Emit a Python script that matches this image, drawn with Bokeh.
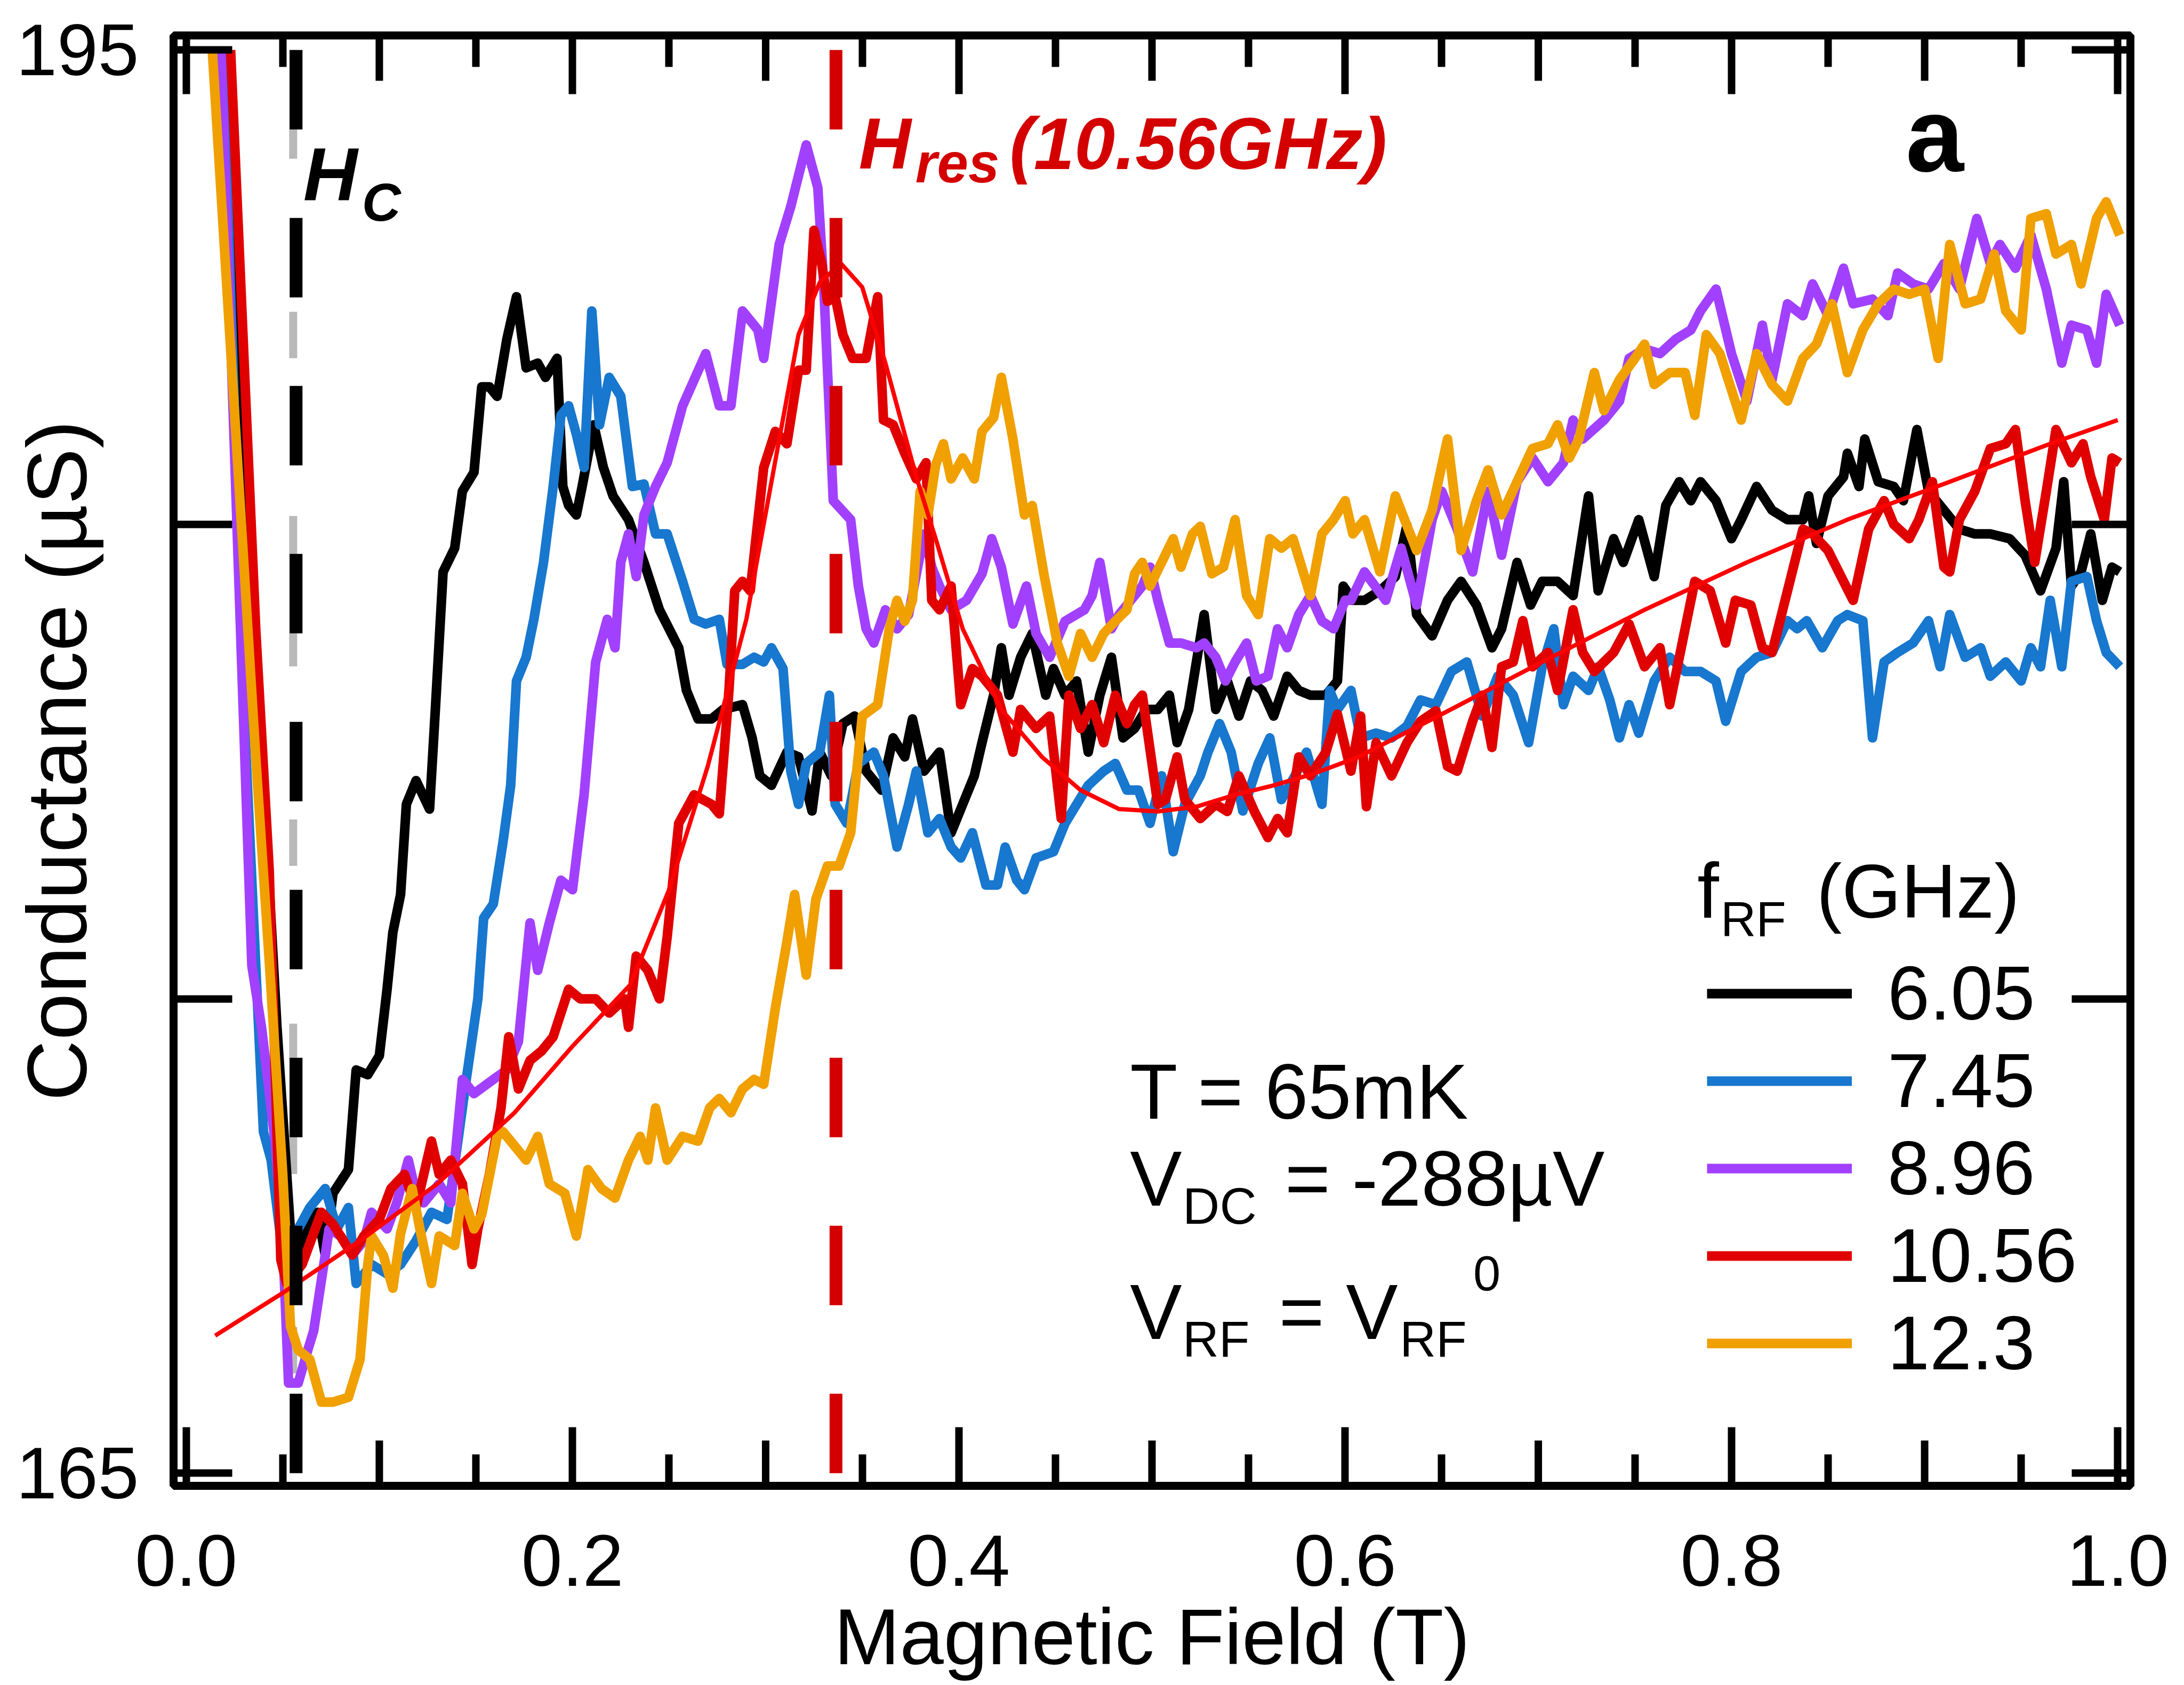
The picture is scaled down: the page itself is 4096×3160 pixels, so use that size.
from bokeh.plotting import figure
from bokeh.models import (Range1d, LinearAxis, FixedTicker, Legend, LegendItem,
                          PrintfTickFormatter)
from bokeh.core.properties import value
from bokeh.embed import file_html
from bokeh.resources import INLINE

# ---------------- data ----------------
series_names = ["6.05", "7.45", "8.96", "10.56", "12.3"]
series_colors = ["#000000", "#1877ce", "#a240ff", "#e00000", "#f0a000"]

black_pts = [(0.019,195.0),(0.047,174.4),(0.054,170.1),(0.057,169.6),(0.062,170.15),(0.068,170.5),(0.072,169.6),(0.076,170.9),(0.084,171.4),(0.088,173.5),(0.094,173.4),(0.100,173.8),(0.104,175.2),(0.107,176.4),(0.111,177.2),(0.114,179.1),(0.119,179.6),(0.126,179.0),(0.129,181.1),(0.133,184.0),(0.139,184.5),(0.143,185.7),(0.149,186.1),(0.153,187.9),(0.157,187.9),(0.161,187.7),(0.166,188.9),(0.171,189.8),(0.176,188.3),(0.182,188.4),(0.186,188.1),(0.192,188.5),(0.195,185.8),(0.198,185.4),(0.202,185.2),(0.205,185.8),(0.211,187.1),(0.216,186.2),(0.221,185.6),(0.229,185.1),(0.237,184.2),(0.245,183.2),(0.255,182.4),(0.259,181.5),(0.265,180.9),(0.272,180.9),(0.278,181.1),(0.288,181.2),(0.293,180.5),(0.297,179.7),(0.303,179.5),(0.311,180.2),(0.317,180.1),(0.324,178.96),(0.328,180.2),(0.334,179.7),(0.340,180.8),(0.346,180.96),(0.352,179.8),(0.360,179.4),(0.366,180.5),(0.372,180.1),(0.376,180.9),(0.382,179.8),(0.390,180.2),(0.396,178.5),(0.402,179.1),(0.408,179.7),(0.412,180.4),(0.418,181.4),(0.422,182.4),(0.426,181.4),(0.432,182.2),(0.438,182.7),(0.445,181.4),(0.449,181.96),(0.455,181.4),(0.461,181.7),(0.467,180.2),(0.473,181.4),(0.479,182.2),(0.485,180.5),(0.491,180.7),(0.497,181.1),(0.503,181.1),(0.509,181.4),(0.513,180.4),(0.519,181.1),(0.527,183.1),(0.533,181.1),(0.539,181.7),(0.545,180.96),(0.551,181.7),(0.557,181.5),(0.563,180.96),(0.570,181.8),(0.576,181.5),(0.582,181.4),(0.590,181.4),(0.596,181.7),(0.599,183.7),(0.604,183.4),(0.610,183.4),(0.618,183.6),(0.626,183.9),(0.632,184.98),(0.637,183.1),(0.645,182.65),(0.653,183.4),(0.660,183.8),(0.668,183.3),(0.676,182.4),(0.681,182.8),(0.689,184.2),(0.696,183.3),(0.702,183.8),(0.710,183.8),(0.718,183.5),(0.726,185.6),(0.731,183.6),(0.739,184.7),(0.744,184.2),(0.752,185.1),(0.760,183.9),(0.766,185.4),(0.773,185.9),(0.779,185.5),(0.784,185.9),(0.792,185.5),(0.800,184.7),(0.805,185.1),(0.813,185.8),(0.821,185.3),(0.829,185.1),(0.837,185.1),(0.840,185.6),(0.844,184.6),(0.850,185.6),(0.858,186.0),(0.860,186.5),(0.866,185.8),(0.869,186.8),(0.876,185.9),(0.884,185.8),(0.889,185.5),(0.896,187.0),(0.902,185.7),(0.910,185.3),(0.918,184.9),(0.926,184.8),(0.934,184.8),(0.944,184.7),(0.952,184.35),(0.960,183.6),(0.968,184.5),(0.972,185.9),(0.976,183.7),(0.981,184.0),(0.986,184.8),(0.992,183.4),(0.997,184.1),(1.001,184.0)]

blue_pts = [(0.019,195.0),(0.030,181.0),(0.040,172.2),(0.044,171.6),(0.050,169.6),(0.058,170.15),(0.064,170.6),(0.072,171.0),(0.078,170.15),(0.084,170.6),(0.088,169.0),(0.096,169.4),(0.104,169.2),(0.111,169.4),(0.119,169.9),(0.127,170.5),(0.135,170.35),(0.141,172.1),(0.145,173.3),(0.151,175.0),(0.154,176.7),(0.159,177.0),(0.164,178.3),(0.168,179.5),(0.171,181.7),(0.176,182.2),(0.180,183.0),(0.185,184.2),(0.190,185.8),(0.194,187.3),(0.198,187.5),(0.202,186.9),(0.206,186.2),(0.210,189.5),(0.214,187.1),(0.219,188.1),(0.225,187.7),(0.231,185.8),(0.237,185.85),(0.243,184.8),(0.249,184.8),(0.257,183.8),(0.263,183.0),(0.269,182.9),(0.276,183.0),(0.280,182.05),(0.288,182.05),(0.294,182.2),(0.299,182.1),(0.303,182.4),(0.309,181.96),(0.313,179.8),(0.317,179.1),(0.321,179.96),(0.328,180.2),(0.333,181.4),(0.336,179.1),(0.342,178.7),(0.348,179.96),(0.356,180.2),(0.361,179.7),(0.368,178.2),(0.374,179.1),(0.378,179.8),(0.384,178.5),(0.390,178.8),(0.396,178.2),(0.401,177.97),(0.407,178.5),(0.414,177.4),(0.420,177.4),(0.424,178.2),(0.430,177.5),(0.434,177.3),(0.440,177.97),(0.449,178.1),(0.455,178.7),(0.461,179.1),(0.467,179.5),(0.475,179.8),(0.481,179.96),(0.487,179.4),(0.493,179.4),(0.499,178.7),(0.505,179.7),(0.511,178.1),(0.517,179.1),(0.525,179.7),(0.529,180.2),(0.535,180.8),(0.541,180.2),(0.547,178.96),(0.555,179.96),(0.561,180.5),(0.567,179.2),(0.574,179.7),(0.580,180.2),(0.588,179.1),(0.592,181.5),(0.596,181.1),(0.603,181.5),(0.608,180.5),(0.616,180.6),(0.624,180.5),(0.632,180.75),(0.639,181.3),(0.647,181.2),(0.655,181.9),(0.663,182.1),(0.671,180.96),(0.679,181.8),(0.687,181.4),(0.695,180.4),(0.702,182.0),(0.708,182.8),(0.713,181.2),(0.718,181.8),(0.726,181.5),(0.731,182.0),(0.737,181.3),(0.742,180.5),(0.747,181.2),(0.752,180.6),(0.760,181.7),(0.768,182.2),(0.776,181.9),(0.784,181.9),(0.792,181.7),(0.797,180.85),(0.805,181.9),(0.813,182.2),(0.821,182.3),(0.829,182.97),(0.834,182.8),(0.839,182.97),(0.847,182.4),(0.855,182.97),(0.860,183.1),(0.868,182.97),(0.873,180.5),(0.879,182.1),(0.886,182.3),(0.894,182.5),(0.902,182.97),(0.908,182.0),(0.913,183.1),(0.921,182.2),(0.929,182.4),(0.934,181.8),(0.942,182.1),(0.950,181.7),(0.955,182.4),(0.960,182.0),(0.965,183.4),(0.971,182.0),(0.976,183.8),(0.984,183.9),(0.989,182.97),(0.994,182.3),(1.001,182.0)]

purple_pts = [(0.018,195.0),(0.034,175.7),(0.039,174.4),(0.046,172.0),(0.050,169.9),(0.053,166.9),(0.058,166.9),(0.063,167.6),(0.066,168.0),(0.072,169.6),(0.074,170.15),(0.080,170.0),(0.086,169.6),(0.092,169.9),(0.096,170.5),(0.104,170.15),(0.109,170.7),(0.115,171.6),(0.119,170.9),(0.123,170.7),(0.131,171.1),(0.137,170.7),(0.143,173.3),(0.149,173.0),(0.159,173.3),(0.166,173.5),(0.172,174.1),(0.178,176.6),(0.182,175.6),(0.188,176.6),(0.194,177.5),(0.200,177.3),(0.206,179.3),(0.212,182.1),(0.218,183.0),(0.222,182.4),(0.225,184.2),(0.229,184.8),(0.233,183.9),(0.237,185.2),(0.243,185.8),(0.249,186.3),(0.257,187.5),(0.269,188.6),(0.276,187.5),(0.282,187.5),(0.288,189.5),(0.296,189.1),(0.299,188.5),(0.307,190.9),(0.313,191.7),(0.321,193.0),(0.327,192.1),(0.330,190.1),(0.335,185.5),(0.344,185.1),(0.348,183.7),(0.352,182.8),(0.356,182.5),(0.362,183.2),(0.368,182.8),(0.374,183.1),(0.382,184.8),(0.386,184.1),(0.390,183.7),(0.396,183.2),(0.404,183.4),(0.412,183.96),(0.417,184.7),(0.422,184.1),(0.428,182.9),(0.435,183.7),(0.440,182.7),(0.447,182.2),(0.455,182.96),(0.465,183.2),(0.469,183.5),(0.473,184.2),(0.479,182.8),(0.483,183.1),(0.489,183.4),(0.495,183.7),(0.499,184.1),(0.503,183.4),(0.509,182.5),(0.515,182.5),(0.523,182.4),(0.527,182.5),(0.533,182.2),(0.538,181.7),(0.543,182.1),(0.549,182.5),(0.554,181.7),(0.560,181.8),(0.565,182.8),(0.570,182.4),(0.576,183.1),(0.582,183.5),(0.588,182.96),(0.594,182.8),(0.600,183.4),(0.603,183.4),(0.610,184.0),(0.621,183.4),(0.629,184.5),(0.637,183.3),(0.645,185.1),(0.650,185.7),(0.658,184.9),(0.666,184.0),(0.674,185.7),(0.681,184.35),(0.689,185.9),(0.697,186.4),(0.705,185.9),(0.713,186.3),(0.718,187.2),(0.723,186.8),(0.734,187.2),(0.742,187.6),(0.747,188.5),(0.755,188.7),(0.763,188.6),(0.771,188.9),(0.779,189.1),(0.784,189.5),(0.792,189.96),(0.800,188.6),(0.808,187.6),(0.816,189.2),(0.821,188.05),(0.829,189.65),(0.837,189.4),(0.842,190.07),(0.850,189.4),(0.858,190.4),(0.863,189.65),(0.873,189.75),(0.881,189.4),(0.886,190.3),(0.894,190.07),(0.902,189.96),(0.910,190.5),(0.918,189.96),(0.927,191.45),(0.934,190.5),(0.939,190.9),(0.947,190.4),(0.955,191.1),(0.963,189.96),(0.971,188.4),(0.976,189.2),(0.984,189.1),(0.989,188.4),(0.994,189.85),(1.001,189.2)]

red_pts = [(0.023,195.0),(0.036,182.8),(0.043,177.7),(0.049,169.5),(0.052,169.0),(0.060,169.4),(0.070,170.5),(0.076,170.25),(0.086,169.6),(0.092,170.0),(0.100,170.35),(0.106,171.0),(0.113,171.3),(0.119,170.6),(0.127,172.0),(0.131,171.3),(0.137,171.6),(0.143,171.1),(0.148,169.4),(0.151,170.15),(0.157,171.3),(0.163,172.7),(0.167,174.2),(0.172,173.1),(0.178,173.7),(0.184,173.9),(0.190,174.2),(0.198,175.2),(0.204,175.0),(0.212,175.0),(0.219,174.7),(0.227,175.0),(0.229,174.4),(0.233,175.9),(0.239,175.6),(0.245,175.0),(0.249,176.3),(0.255,178.7),(0.263,179.3),(0.272,179.1),(0.276,178.9),(0.281,181.5),(0.284,183.6),(0.288,183.8),(0.292,183.6),(0.299,186.2),(0.305,186.96),(0.311,186.7),(0.317,188.25),(0.321,188.25),(0.325,191.2),(0.329,190.5),(0.332,189.7),(0.336,189.8),(0.340,189.0),(0.345,188.5),(0.352,188.5),(0.358,189.8),(0.361,187.2),(0.366,187.1),(0.372,186.5),(0.378,185.96),(0.383,186.3),(0.386,183.4),(0.390,183.2),(0.396,183.7),(0.401,181.2),(0.407,181.96),(0.412,181.8),(0.420,181.4),(0.428,180.2),(0.432,181.1),(0.440,180.7),(0.447,180.96),(0.453,178.8),(0.457,181.4),(0.463,180.7),(0.469,181.2),(0.475,180.4),(0.481,181.4),(0.487,180.8),(0.491,181.2),(0.495,181.4),(0.503,179.1),(0.507,179.2),(0.513,180.1),(0.517,179.2),(0.525,178.8),(0.533,179.1),(0.539,178.95),(0.545,179.7),(0.553,178.95),(0.560,178.4),(0.565,178.8),(0.570,178.5),(0.576,180.1),(0.582,179.7),(0.590,180.2),(0.596,181.0),(0.603,179.8),(0.608,180.96),(0.611,179.05),(0.616,180.4),(0.624,179.7),(0.632,180.4),(0.639,180.85),(0.647,181.07),(0.653,179.9),(0.658,179.8),(0.666,180.85),(0.671,181.4),(0.676,180.3),(0.681,182.0),(0.687,182.1),(0.692,182.97),(0.697,182.0),(0.705,182.3),(0.710,181.5),(0.718,183.2),(0.723,182.3),(0.729,181.9),(0.734,182.1),(0.739,182.3),(0.747,182.9),(0.755,182.0),(0.763,182.4),(0.768,181.2),(0.776,182.8),(0.781,183.8),(0.789,183.6),(0.797,182.5),(0.802,183.4),(0.810,183.3),(0.816,182.4),(0.821,182.3),(0.829,183.6),(0.837,184.9),(0.842,184.8),(0.850,184.45),(0.858,183.8),(0.863,183.4),(0.871,184.9),(0.879,185.5),(0.884,185.0),(0.892,184.7),(0.897,185.1),(0.904,185.9),(0.910,184.1),(0.913,184.0),(0.918,185.1),(0.926,185.7),(0.934,186.6),(0.942,186.7),(0.947,187.0),(0.952,185.5),(0.957,184.2),(0.963,185.7),(0.968,187.0),(0.976,186.3),(0.982,186.7),(0.986,186.0),(0.993,185.1),(0.997,186.4),(1.001,186.3)]

orange_pts = [(0.0135,195.0),(0.036,180.1),(0.043,175.8),(0.050,171.3),(0.054,168.1),(0.058,167.6),(0.064,167.4),(0.070,166.5),(0.076,166.5),(0.084,166.6),(0.090,167.4),(0.094,169.4),(0.096,170.0),(0.102,169.6),(0.107,168.9),(0.111,170.05),(0.117,171.0),(0.121,170.15),(0.127,169.0),(0.131,170.0),(0.139,169.8),(0.143,170.9),(0.149,170.15),(0.153,170.45),(0.161,172.1),(0.164,172.2),(0.170,171.9),(0.176,171.6),(0.182,172.1),(0.188,171.1),(0.196,170.9),(0.202,170.0),(0.208,171.4),(0.215,171.0),(0.222,170.8),(0.229,171.6),(0.235,172.1),(0.239,171.6),(0.243,172.7),(0.249,171.6),(0.257,172.1),(0.265,172.0),(0.271,172.7),(0.276,172.9),(0.282,172.6),(0.288,173.1),(0.294,173.3),(0.299,173.2),(0.305,174.8),(0.311,176.2),(0.315,177.2),(0.321,175.5),(0.326,177.1),(0.332,177.8),(0.338,177.8),(0.344,178.5),(0.350,180.96),(0.358,181.2),(0.364,182.8),(0.368,183.4),(0.372,182.96),(0.376,183.4),(0.380,185.7),(0.384,185.2),(0.388,186.25),(0.392,186.7),(0.396,185.96),(0.402,186.4),(0.408,185.96),(0.412,186.96),(0.418,187.25),(0.422,188.1),(0.428,186.8),(0.434,185.2),(0.438,185.4),(0.444,183.96),(0.451,182.5),(0.457,181.8),(0.463,182.7),(0.469,182.2),(0.475,182.7),(0.481,182.96),(0.487,183.2),(0.491,183.96),(0.495,184.2),(0.499,183.7),(0.505,184.2),(0.511,184.7),(0.515,184.1),(0.521,184.8),(0.525,184.96),(0.531,183.96),(0.537,184.1),(0.543,185.1),(0.549,183.5),(0.555,183.1),(0.561,184.7),(0.567,184.5),(0.573,184.7),(0.582,183.5),(0.588,184.8),(0.594,185.1),(0.600,185.5),(0.604,184.8),(0.610,185.1),(0.618,184.0),(0.626,185.6),(0.637,184.45),(0.645,185.3),(0.653,186.8),(0.660,184.45),(0.668,185.5),(0.674,186.15),(0.681,185.2),(0.689,185.9),(0.697,186.6),(0.705,186.7),(0.710,187.1),(0.716,186.4),(0.721,186.8),(0.729,188.2),(0.734,187.4),(0.742,188.05),(0.750,188.5),(0.755,188.8),(0.760,187.95),(0.768,188.2),(0.776,188.2),(0.781,187.3),(0.787,189.0),(0.794,188.6),(0.805,187.2),(0.813,188.6),(0.821,187.95),(0.829,187.6),(0.837,188.5),(0.844,188.8),(0.852,189.65),(0.860,188.2),(0.868,189.1),(0.876,189.65),(0.884,189.96),(0.892,189.85),(0.900,189.96),(0.907,188.5),(0.913,190.9),(0.921,189.65),(0.929,189.75),(0.936,190.7),(0.942,189.5),(0.950,189.1),(0.955,191.45),(0.963,191.55),(0.968,190.7),(0.976,190.9),(0.981,190.07),(0.989,191.45),(0.994,191.8),(1.001,191.1)]

fit_pts = [(0.015,167.9),(0.05,168.8),(0.09,169.9),(0.13,171.1),(0.17,172.6),(0.20,174.0),(0.23,175.3),(0.25,177.3),(0.27,179.9),(0.29,183.0),(0.303,185.9),(0.317,189.0),(0.328,190.1),(0.339,190.5),(0.350,190.0),(0.362,188.4),(0.378,186.0),(0.388,184.7),(0.402,182.8),(0.422,181.1),(0.443,180.1),(0.463,179.4),(0.483,179.0),(0.503,178.95),(0.523,179.05),(0.543,179.3),(0.563,179.5),(0.584,179.75),(0.607,180.1),(0.650,181.0),(0.702,182.1),(0.755,183.2),(0.808,184.2),(0.860,185.1),(0.913,185.9),(0.965,186.7),(1.0,187.2)]

hc_field = 0.0569          # H_C marker
hres_field = 0.3364        # H_res(10.56 GHz) marker
marker_span = [195.0, 165.0]

x_major_ticks = [0.0, 0.2, 0.4, 0.6, 0.8, 1.0]
x_mid_ticks = [0.1, 0.3, 0.5, 0.7, 0.9]
x_minor_ticks = [0.05, 0.15, 0.25, 0.35, 0.45, 0.55, 0.65, 0.75, 0.85, 0.95]
y_major_ticks = [165, 175, 185, 195]
y_tick_text = {175: "", 185: ""}

# ---------------- layout ----------------
FONT = "Liberation Sans"
W, H = 4092, 3160
FL, FR, FT, FB = 325, 3995, 66, 2786
X_START, X_END = -0.00653, 1.00653
Y_START, Y_END = 164.734, 195.307

p = figure(width=W, height=H, output_backend="svg", toolbar_location=None,
           x_range=Range1d(X_START, X_END), y_range=Range1d(Y_START, Y_END),
           x_axis_location=None, y_axis_location=None,
           min_border_left=FL, min_border_right=W - FR,
           min_border_top=FT, min_border_bottom=H - FB)
p.grid.visible = False
p.outline_line_color = "black"
p.outline_line_width = 15
p.background_fill_color = "white"
p.border_fill_color = "white"


def make_axis(ticker, font_size, standoff, show_labels=True):
    ax = LinearAxis(ticker=ticker)
    ax.axis_line_color = None
    ax.major_tick_in = 110
    ax.major_tick_out = 0
    ax.minor_tick_in = 59
    ax.minor_tick_out = 0
    ax.major_tick_line_width = 14
    ax.minor_tick_line_width = 14
    ax.major_tick_line_color = "black"
    ax.minor_tick_line_color = "black"
    ax.major_label_text_font = FONT
    ax.major_label_text_font_size = font_size
    ax.major_label_text_color = "black" if show_labels else None
    ax.major_label_standoff = standoff
    ax.axis_label_text_font = FONT
    ax.axis_label_text_font_style = "normal"
    ax.axis_label_text_color = "black"
    ax.axis_label_text_font_size = "148px"
    return ax


xt = FixedTicker(ticks=x_major_ticks, minor_ticks=x_minor_ticks)
yt = FixedTicker(ticks=y_major_ticks, minor_ticks=[])

xb = make_axis(xt, "138px", 92)
xb.formatter = PrintfTickFormatter(format="%.1f")
xb.axis_label = "Magnetic Field (T)"
xb.axis_label_standoff = 10
p.add_layout(xb, "below")

xa = make_axis(xt, "2px", 0, show_labels=False)
p.add_layout(xa, "above")

yl = make_axis(yt, "138px", 65)
yl.major_label_overrides = y_tick_text
yl.axis_label = "Conductance (µS)"
yl.axis_label_text_font_size = "158px"
yl.axis_label_standoff = -167
p.add_layout(yl, "left")

yr = make_axis(yt, "2px", 0, show_labels=False)
p.add_layout(yr, "right")

# medium ticks at the odd tenths (longer than minor, shorter than major)
px_per_y = (FB - FT) / (Y_END - Y_START)
mid_len = 85 / px_per_y
n = len(x_mid_ticks)
p.segment(x0=x_mid_ticks, y0=[Y_START] * n, x1=x_mid_ticks, y1=[Y_START + mid_len] * n,
          line_color="black", line_width=14)
p.segment(x0=x_mid_ticks, y0=[Y_END] * n, x1=x_mid_ticks, y1=[Y_END - mid_len] * n,
          line_color="black", line_width=14)

# gray dashed guide under the H_C marker
p.line([hc_field - 0.0015] * 2, marker_span, line_color="#b9b9b9", line_width=15,
       line_dash="282 287 87 296", line_dash_offset=78)

renderers = []
for pts, col in zip([black_pts, blue_pts, purple_pts, red_pts, orange_pts], series_colors):
    r = p.line([a for a, b in pts], [b for a, b in pts], line_color=col, line_width=18,
               line_join="round")
    renderers.append(r)

p.line([a for a, b in fit_pts], [b for a, b in fit_pts], line_color="#ff0000", line_width=8,
       line_join="round")

p.line([hc_field] * 2, marker_span, line_color="black", line_width=24, line_dash="149 166")
p.line([hres_field] * 2, marker_span, line_color="#d40000", line_width=24, line_dash="149 166")

legend = Legend(items=[LegendItem(label=nm, renderers=[r]) for nm, r in zip(series_names, renderers)],
                location=(2876, 185), glyph_width=272, glyph_height=90, label_height=90,
                label_standoff=67, spacing=0, padding=0, margin=0,
                border_line_color=None, background_fill_alpha=0,
                label_text_font=FONT, label_text_font_size="142px", label_text_color="black")
p.add_layout(legend)


def txt(x, y, s, size, color="black", style="normal"):
    p.text(x=[x], y=[y], text=[s], text_font=value(FONT), text_font_size=value(size),
           text_color=value(color), text_font_style=value(style), text_align=value("left"),
           text_baseline=value("alphabetic"))


# marker labels (note: avoid font sizes like 100px/200px that parse as font weights)
txt(0.0606, 192.38, "H", "141px", style="bold italic")
txt(0.0910, 191.80, "C", "101px", style="bold italic")
txt(0.3482, 193.03, "H", "136px", color="#d40000", style="bold italic")
txt(0.3775, 192.62, "res", "105px", color="#d40000", style="bold italic")
txt(0.4262, 193.03, "(10.56GHz)", "137px", color="#d40000", style="bold italic")
txt(0.8902, 193.20, "a", "196px", style="bold")

# conditions
txt(0.4886, 173.04, "T = 65mK", "146px")
txt(0.4886, 171.21, "V", "146px")
txt(0.5159, 170.63, "DC", "96px")
txt(0.5688, 171.21, "= -288µV", "146px")
txt(0.4886, 168.40, "V", "146px")
txt(0.5159, 167.82, "RF", "94px")
txt(0.5657, 168.40, "= V", "146px")
txt(0.6283, 167.82, "RF", "94px")
txt(0.6663, 169.21, "0", "92px")

# legend title
txt(0.7823, 177.28, "f", "146px")
txt(0.7944, 176.68, "RF", "92px")
txt(0.8440, 177.27, "(GHz)", "143px")

open("out.html", "w").write(file_html(p, INLINE))
